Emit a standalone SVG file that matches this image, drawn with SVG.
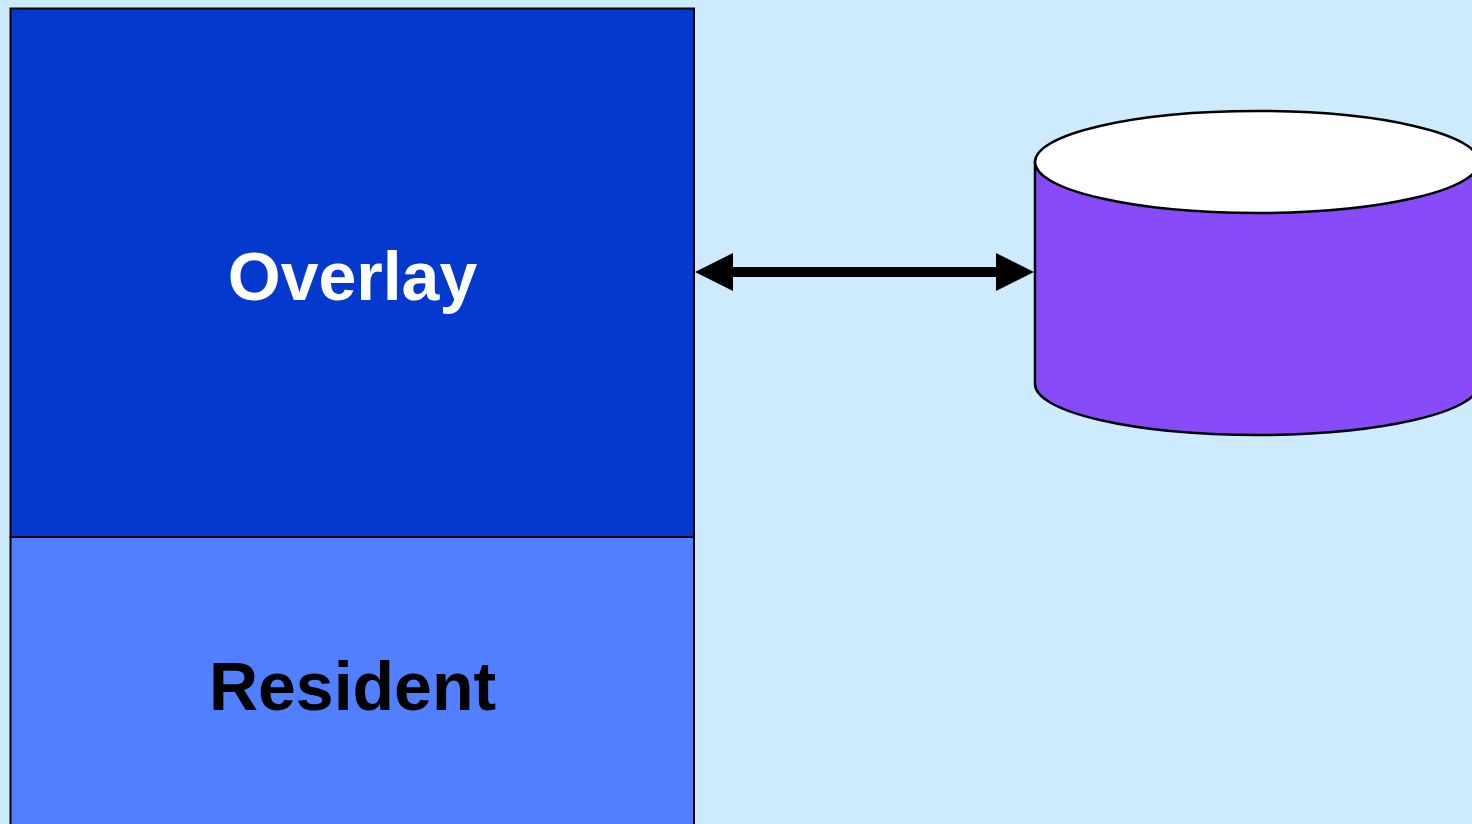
<svg xmlns="http://www.w3.org/2000/svg" width="1472" height="824" viewBox="0 0 1472 824">
  <style>
    .box { stroke: #000; stroke-width: 2; }
    .label { font-family: "Liberation Sans", Arial, sans-serif; font-weight: bold; font-size: 68px; text-anchor: middle; }
    .db { stroke: #000; stroke-width: 2.5; }
    .head { fill: #000; }
  </style>
  <rect width="1472" height="824" fill="#cdebfd"/>

  <g id="overlay">
    <rect class="box" x="10.5" y="8.5" width="683.5" height="528.5" fill="#0339cc"/>
    <text class="label" x="352.5" y="300" fill="#fff">Overlay</text>
  </g>

  <g id="resident">
    <rect class="box" x="10.5" y="537" width="683.5" height="300" fill="#5080ff"/>
    <text class="label" x="352.5" y="710" fill="#000">Resident</text>
  </g>

  <g id="storage">
    <path class="db" fill="#874bf9" d="M1035,162 L1035,384 A222,51 0 0 0 1479,384 L1479,162 Z"/>
    <ellipse class="db" cx="1257" cy="162" rx="222" ry="51" fill="#fff"/>
  </g>

  <g id="connectors">
    <line x1="730" y1="272" x2="999" y2="272" stroke="#000" stroke-width="10"/>
    <path class="head" d="M695,272 L733,253 L733,291 Z"/>
    <path class="head" d="M1034,272 L996,253 L996,291 Z"/>
  </g>
</svg>
